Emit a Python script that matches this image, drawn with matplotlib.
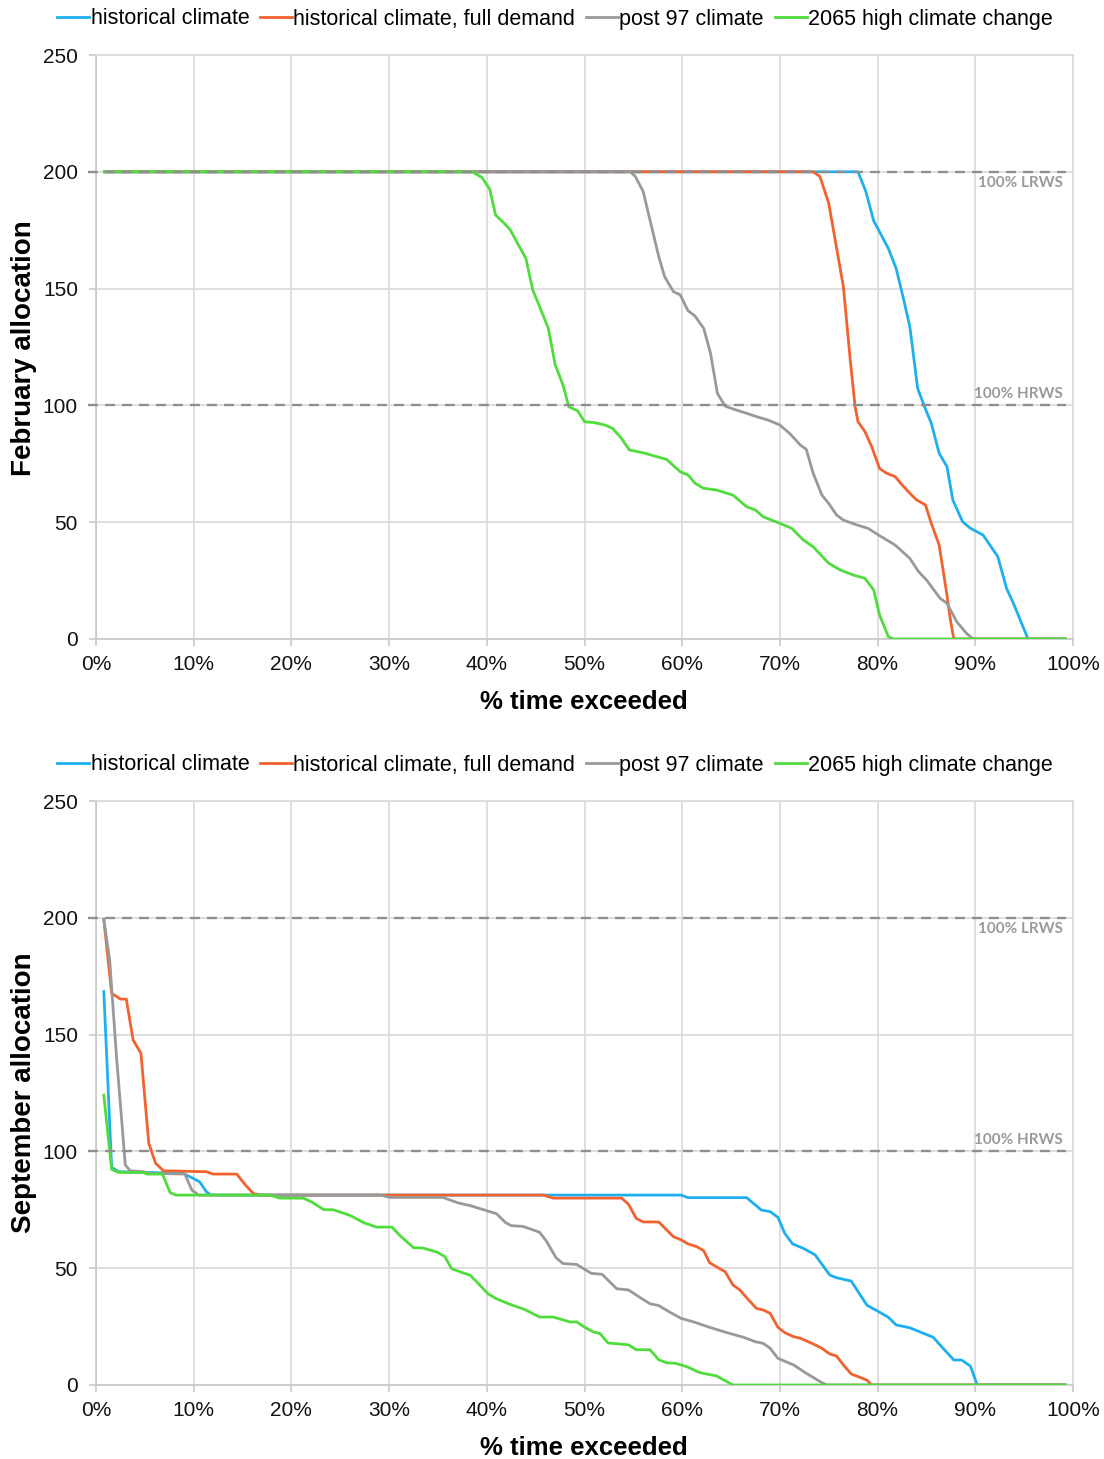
import matplotlib
matplotlib.use("Agg")
import matplotlib.pyplot as plt
from matplotlib.ticker import FuncFormatter

plt.rcParams["font.family"] = ["Liberation Sans", "DejaVu Sans"]

# ---- series names and colours ----
series_names = ["historical climate", "historical climate, full demand",
                "post 97 climate", "2065 high climate change"]
series_colors = ["#1eb0ee", "#f2622f", "#999999", "#4fdc3c"]

# ---- February allocation (x = % time exceeded) ----
feb_hist_x = [0.9, 78.0, 78.8, 79.6, 80.2, 81.1, 81.9, 82.6, 83.3, 84.1,
              84.8, 85.5, 86.3, 87.1, 87.7, 88.7, 89.5, 90.8, 92.3, 93.2,
              93.9, 95.4, 99.2]
feb_hist_y = [200, 200, 191.5, 179, 174.3, 167.2, 158.6, 146.5, 133.7, 107.3,
              99.5, 92.3, 79.5, 73.8, 59.5, 50.2, 47.4, 44.5, 35.3, 21.7,
              15.3, 0, 0]

feb_full_x = [0.9, 73.4, 74.1, 75.0, 75.6, 76.5, 77.2, 77.7, 78.0, 78.7,
              79.4, 80.2, 80.9, 81.8, 82.5, 83.3, 84.0, 84.9, 85.5, 86.3,
              87.1, 87.4, 87.8, 99.2]
feb_full_y = [200, 200, 198, 186.5, 172.2, 150.8, 119.4, 99.4, 93, 88.8,
              82.3, 73, 71, 69.5, 66, 62.4, 59.5, 57.4, 49.5, 40.2,
              18.8, 9.5, 0, 0]

feb_p97_x = [0.9, 54.7, 55.2, 56.0, 56.7, 57.6, 58.2, 59.1, 59.8, 60.6,
             61.3, 62.2, 62.9, 63.6, 64.4, 65.4, 66.6, 67.6, 68.8, 70.0,
             71.0, 72.1, 72.7, 73.4, 74.3, 75.0, 75.8, 76.5, 77.9, 79.0,
             80.1, 81.8, 83.3, 84.2, 85.0, 86.4, 87.1, 88.1, 89.1, 89.8,
             99.2]
feb_p97_y = [200, 200, 198, 191.6, 179.4, 163.7, 155.1, 148.7, 147.3, 140.5,
             138.3, 133, 122.3, 105.2, 99.7, 98.2, 96.6, 95.2, 93.7, 91.6,
             88, 83, 81.2, 71, 61.6, 58, 53.1, 50.9, 48.8, 47.4,
             44.5, 40.2, 34.5, 28.8, 25.3, 17.4, 15.3, 7.4, 2.4, 0,
             0]

feb_2065_x = [0.9, 38.5, 39.5, 40.3, 40.9, 41.7, 42.4, 43.2, 44.0, 44.7,
              45.5, 46.3, 47.0, 47.8, 48.4, 49.3, 50.0, 50.9, 52.1, 52.9,
              53.8, 54.6, 56.0, 58.4, 59.8, 60.6, 61.3, 62.2, 63.5, 65.2,
              66.6, 67.5, 68.3, 70.0, 71.2, 72.4, 73.4, 75.0, 76.2, 77.5,
              78.7, 79.6, 80.2, 81.1, 81.6, 99.2]
feb_2065_y = [200, 200, 197.6, 192.6, 181.5, 178.3, 175.2, 169, 162.9, 149.5,
              141.3, 133, 117.4, 108.7, 99.4, 97.7, 93, 92.7, 91.6, 90.1,
              85.8, 80.9, 79.7, 76.9, 71.6, 70.2, 66.7, 64.5, 63.8, 61.6,
              56.6, 55.2, 52.3, 49.5, 47.4, 42.4, 39.5, 32.4, 29.5, 27.4,
              26, 21, 10.3, 1, 0, 0]

# ---- September allocation ----
sep_hist_x = [0.8, 1.6, 2.3, 8.9, 9.6, 10.6, 11.3, 11.8, 59.9, 60.6,
              66.6, 68.1, 69.0, 69.8, 70.5, 71.3, 72.4, 73.6, 75.1, 75.8,
              77.3, 78.9, 80.4, 81.1, 81.9, 83.3, 84.3, 85.7, 86.4, 87.8,
              88.6, 89.5, 90.2, 99.2]
sep_hist_y = [168.4, 93.2, 91.3, 90.6, 89.2, 87, 82.7, 81.3, 81.3, 80.2,
              80.2, 74.9, 74.2, 71.8, 64.9, 60.4, 58.5, 55.7, 47.1, 45.9,
              44.5, 34.2, 30.7, 29, 25.7, 24.5, 22.8, 20.4, 17.1, 10.7,
              10.7, 8.1, 0, 0]

sep_full_x = [0.8, 1.6, 2.5, 3.1, 3.8, 4.6, 5.4, 6.1, 6.9, 11.3,
              12.0, 14.4, 15.3, 16.1, 16.8, 45.8, 46.8, 53.8, 54.5, 55.3,
              56.0, 57.6, 59.1, 59.9, 60.6, 61.5, 62.2, 62.8, 63.5, 64.4,
              65.2, 65.9, 66.8, 67.6, 68.3, 69.0, 69.8, 70.5, 71.4, 72.1,
              73.4, 74.3, 75.1, 75.8, 76.5, 77.3, 78.0, 78.9, 79.4, 99.2]
sep_full_y = [199.3, 167.7, 165.2, 165.2, 147.7, 142, 103.5, 94.9, 91.7, 91.3,
              90.3, 90.3, 85.6, 82, 81.3, 81.3, 80, 80, 77.4, 71.3,
              69.8, 69.8, 63.5, 62.1, 60.4, 59.2, 57.5, 52.4, 50.6, 48.5,
              42.8, 40.7, 36.4, 32.8, 32.1, 30.7, 24.7, 22.4, 20.7, 20,
              17.6, 15.7, 13.3, 12.4, 8.6, 4.7, 3.6, 2.1, 0, 0]

sep_p97_x = [0.8, 1.4, 2.1, 3.0, 3.5, 4.8, 5.5, 9.1, 9.8, 10.5,
             29.1, 30.1, 35.5, 37.1, 38.3, 40.0, 41.0, 41.9, 42.5, 43.7,
             45.4, 46.1, 47.1, 47.8, 49.2, 50.7, 51.8, 53.3, 54.5, 55.7,
             56.7, 57.6, 58.8, 59.9, 61.1, 62.8, 64.5, 66.3, 67.5, 68.3,
             69.0, 69.8, 71.4, 72.7, 74.3, 74.8, 99.2]
sep_p97_y = [199.3, 182, 140.5, 94.2, 91.7, 91.3, 90.6, 90.3, 83.5, 81.3,
             81.3, 80.3, 80.3, 77.9, 76.8, 74.6, 73.3, 69.6, 68.2, 67.9,
             65.4, 61.6, 54.4, 52, 51.6, 47.8, 47.4, 41.2, 40.7, 37.4,
             34.8, 34.0, 31, 28.5, 27.1, 24.7, 22.5, 20.4, 18.5, 17.8,
             15.7, 11.4, 8.6, 5, 1, 0, 0]

sep_2065_x = [0.8, 1.6, 2.3, 4.8, 5.2, 6.8, 7.6, 8.2, 17.8, 18.8,
              21.2, 22.1, 23.3, 24.3, 26.0, 27.4, 28.7, 30.3, 31.1, 32.5,
              33.5, 34.9, 35.7, 36.4, 37.3, 38.3, 39.1, 40.1, 41.0, 42.4,
              43.9, 45.4, 46.8, 48.5, 49.2, 50.0, 50.9, 51.6, 52.4, 54.5,
              55.3, 56.7, 57.6, 58.4, 59.3, 60.5, 61.8, 63.5, 64.4, 65.2,
              99.2]
sep_2065_y = [124.1, 92.3, 91, 91, 90.3, 90.3, 82.3, 81.3, 81.3, 80,
              80, 78.3, 75.1, 75, 72.6, 69.5, 67.6, 67.6, 64, 58.8,
              58.6, 56.9, 55, 49.8, 48.4, 47, 43.6, 39.1, 36.9, 34.5,
              32.3, 29.1, 29.1, 27, 27, 24.8, 22.7, 22, 18, 17.2,
              15.1, 15.1, 10.8, 9.5, 9.3, 7.8, 5.3, 3.9, 1.8, 0,
              0]

# reference levels
ref_levels = [200, 100]
ref_labels = ["100% LRWS", "100% HRWS"]
ref_label_y = [195.3, 104.8]

x_ticks = list(range(0, 101, 10))
y_ticks = list(range(0, 251, 50))

panels = [
    ("February allocation",
     [(feb_hist_x, feb_hist_y), (feb_full_x, feb_full_y),
      (feb_p97_x, feb_p97_y), (feb_2065_x, feb_2065_y)]),
    ("September allocation",
     [(sep_hist_x, sep_hist_y), (sep_full_x, sep_full_y),
      (sep_p97_x, sep_p97_y), (sep_2065_x, sep_2065_y)]),
]

W, H = 1104, 1459
fig = plt.figure(figsize=(W / 100, H / 100), dpi=100)

# axes boxes in pixels: (left, top, right, bottom)
boxes = [(96, 55, 1073, 639), (96, 801, 1073, 1385)]
legend_y_px = [19, 765]
ylabel_center_px = [348, 1093]
xlabel_base_px = [709, 1455]

grid_col = "#d9d9d9"

for (title, data), box, ly, yc, xb in zip(panels, boxes, legend_y_px,
                                          ylabel_center_px, xlabel_base_px):
    l, t, r, b = box
    ax = fig.add_axes([l / W, 1 - b / H, (r - l) / W, (b - t) / H])
    handles = []
    for (xs, ys), name, col, z in zip(data, series_names, series_colors, [2, 3, 4, 5]):
        h, = ax.plot(xs, ys, color=col, lw=2.0, label=name, zorder=z,
                     solid_joinstyle="round")
        handles.append(h)
    for lev, txt, ty in zip(ref_levels, ref_labels, ref_label_y):
        ax.plot([-0.8, 99.3], [lev, lev], color="#8f8f8f", lw=1.7,
                dashes=(4.2, 3.0), zorder=6, clip_on=False)
        ax.text(99.0, ty, txt, ha="right", va="center", fontsize=11,
                fontweight="bold", color="#9a9a9a", family=["Lato", "DejaVu Sans"],
                zorder=7)

    ax.set_xlim(0, 100)
    ax.set_ylim(0, 250)
    ax.set_xticks(x_ticks)
    ax.set_yticks(y_ticks)
    ax.xaxis.set_major_formatter(FuncFormatter(lambda v, p: f"{int(v)}%"))
    ax.grid(True, color=grid_col, lw=1.2, zorder=0)
    ax.set_axisbelow(True)
    for s in ax.spines.values():
        s.set_color(grid_col)
        s.set_linewidth(1.2)
    ax.spines["bottom"].set_color("#c8c8c8")
    ax.spines["left"].set_color("#c8c8c8")
    ax.tick_params(axis="both", colors="#c8c8c8", labelcolor="#111111",
                   length=5, width=1.2, labelsize=15)
    ax.tick_params(axis="y", pad=8)
    ax.tick_params(axis="x", pad=6.5)

    fig.legend(handles=handles, labels=series_names, loc="center",
               bbox_to_anchor=(555 / W, 1 - ly / H), ncol=4, frameon=False,
               fontsize=15.5, handlelength=1.5, handletextpad=0.05,
               columnspacing=0.5, borderpad=0, borderaxespad=0)

    fig.text(24 / W, 1 - yc / H, title, rotation=90, ha="center", va="center",
             fontsize=20, fontweight="bold")
    fig.text(584 / W, 1 - xb / H, "% time exceeded", ha="center",
             va="baseline", fontsize=18.5, fontweight="bold")

fig.savefig("out.png", dpi=100, facecolor="white")
